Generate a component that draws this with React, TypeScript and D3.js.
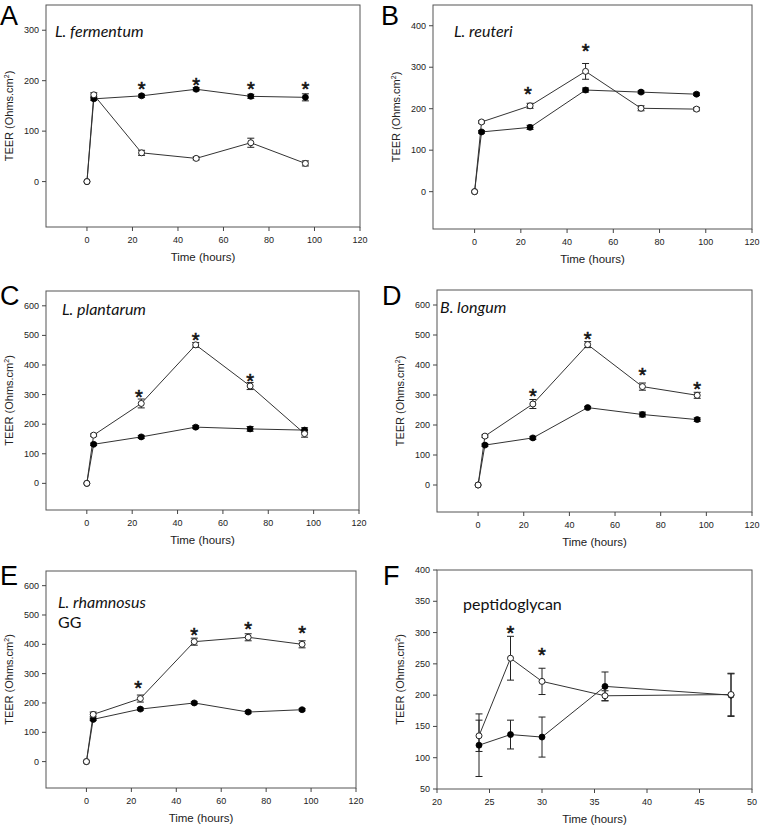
import React from "react";
import * as d3 from "d3";

// ---------- data ----------
const timesAE = [0, 3, 24, 48, 72, 96];
const timesF = [24, 27, 30, 36, 48];

const fermentumOpen = [0, 172, 57, 46, 77, 36];
const fermentumOpenErr = [0, 4, 5, 3, 9, 5];
const fermentumFilled = [0, 164, 170, 183, 169, 167];
const fermentumFilledErr = [0, 3, 3, 3, 4, 7];
const fermentumStarTimes = [24, 48, 72, 96];
const fermentumStarLevels = [192, 199, 192, 192];

const reuteriOpen = [0, 168, 207, 290, 201, 199];
const reuteriOpenErr = [0, 3, 6, 19, 6, 4];
const reuteriFilled = [0, 144, 155, 245, 240, 235];
const reuteriFilledErr = [0, 3, 5, 5, 3, 3];
const reuteriStarTimes = [23, 48];
const reuteriStarLevels = [245, 348];

const plantarumOpen = [0, 163, 270, 468, 329, 168];
const plantarumOpenErr = [0, 4, 15, 8, 12, 12];
const plantarumFilled = [0, 132, 157, 190, 184, 180];
const plantarumFilledErr = [0, 4, 5, 5, 8, 8];
const plantarumStarTimes = [23, 48, 72];
const plantarumStarLevels = [307, 498, 360];

const longumOpen = [0, 163, 270, 468, 328, 299];
const longumOpenErr = [0, 4, 15, 10, 12, 10];
const longumFilled = [0, 133, 157, 258, 235, 218];
const longumFilledErr = [0, 4, 5, 4, 8, 6];
const longumStarTimes = [24, 48, 72, 96];
const longumStarLevels = [310, 499, 380, 333];

const rhamnosusOpen = [0, 161, 215, 409, 424, 400];
const rhamnosusOpenErr = [0, 8, 12, 12, 12, 12];
const rhamnosusFilled = [0, 144, 179, 200, 169, 177];
const rhamnosusFilledErr = [0, 4, 4, 4, 4, 4];
const rhamnosusStarTimes = [23, 48, 72, 96];
const rhamnosusStarLevels = [263, 445, 466, 451];

const pgOpen = [135, 259, 222, 199, 201];
const pgOpenErr = [25, 35, 21, 8, 34];
const pgFilled = [120, 137, 133, 214, 200];
const pgFilledErr = [50, 23, 32, 23, 34];
const pgStarTimes = [27, 30];
const pgStarLevels = [305, 271];

const xTicksAE = [0, 20, 40, 60, 80, 100, 120];
const xTicksF = [20, 25, 30, 35, 40, 45, 50];
const yTicksA = [0, 100, 200, 300];
const yTicksB = [0, 100, 200, 300, 400];
const yTicksCDE = [0, 100, 200, 300, 400, 500, 600];
const yTicksF = [50, 100, 150, 200, 250, 300, 350, 400];

const xLabel = "Time (hours)";

// ---------- layout ----------
type TitleLine = { text: string; italic: boolean };
type Panel = {
  letter: string;
  letterX: number;
  letterY: number;
  box: [number, number, number, number]; // left, right, top, bottom
  xDomain: [number, number];
  yDomain: [number, number];
  xTicks: number[];
  yTicks: number[];
  times: number[];
  open: number[];
  openErr: number[];
  filled: number[];
  filledErr: number[];
  starTimes: number[];
  starLevels: number[];
  title: TitleLine[];
  titlePos: [number, number];
  titleSize: number;
  lineGap: number;
};

const panels: Panel[] = [
  {
    letter: "A", letterX: 0, letterY: 25, box: [46, 360, 5, 227],
    xDomain: [-18, 120], yDomain: [-90, 350], xTicks: xTicksAE, yTicks: yTicksA,
    times: timesAE, open: fermentumOpen, openErr: fermentumOpenErr,
    filled: fermentumFilled, filledErr: fermentumFilledErr,
    starTimes: fermentumStarTimes, starLevels: fermentumStarLevels,
    title: [{ text: "L. fermentum", italic: true }], titlePos: [55, 37], titleSize: 16, lineGap: 0,
  },
  {
    letter: "B", letterX: 381, letterY: 25, box: [433, 752, 5, 229],
    xDomain: [-18, 120], yDomain: [-90, 450], xTicks: xTicksAE, yTicks: yTicksB,
    times: timesAE, open: reuteriOpen, openErr: reuteriOpenErr,
    filled: reuteriFilled, filledErr: reuteriFilledErr,
    starTimes: reuteriStarTimes, starLevels: reuteriStarLevels,
    title: [{ text: "L. reuteri", italic: true }], titlePos: [454, 37], titleSize: 16, lineGap: 0,
  },
  {
    letter: "C", letterX: 0, letterY: 305, box: [46, 359, 291, 510],
    xDomain: [-18, 120], yDomain: [-90, 650], xTicks: xTicksAE, yTicks: yTicksCDE,
    times: timesAE, open: plantarumOpen, openErr: plantarumOpenErr,
    filled: plantarumFilled, filledErr: plantarumFilledErr,
    starTimes: plantarumStarTimes, starLevels: plantarumStarLevels,
    title: [{ text: "L. plantarum", italic: true }], titlePos: [62, 315], titleSize: 16, lineGap: 0,
  },
  {
    letter: "D", letterX: 382, letterY: 305, box: [437, 752, 290, 512],
    xDomain: [-18, 120], yDomain: [-90, 650], xTicks: xTicksAE, yTicks: yTicksCDE,
    times: timesAE, open: longumOpen, openErr: longumOpenErr,
    filled: longumFilled, filledErr: longumFilledErr,
    starTimes: longumStarTimes, starLevels: longumStarLevels,
    title: [{ text: "B. longum", italic: true }], titlePos: [440, 313], titleSize: 16, lineGap: 0,
  },
  {
    letter: "E", letterX: 0, letterY: 585, box: [46, 356, 571, 788],
    xDomain: [-18, 120], yDomain: [-90, 650], xTicks: xTicksAE, yTicks: yTicksCDE,
    times: timesAE, open: rhamnosusOpen, openErr: rhamnosusOpenErr,
    filled: rhamnosusFilled, filledErr: rhamnosusFilledErr,
    starTimes: rhamnosusStarTimes, starLevels: rhamnosusStarLevels,
    title: [
      { text: "L. rhamnosus", italic: true },
      { text: "GG", italic: false },
    ],
    titlePos: [58, 608], titleSize: 16, lineGap: 20,
  },
  {
    letter: "F", letterX: 383, letterY: 585, box: [437, 752, 570, 789],
    xDomain: [20, 50], yDomain: [50, 400], xTicks: xTicksF, yTicks: yTicksF,
    times: timesF, open: pgOpen, openErr: pgOpenErr,
    filled: pgFilled, filledErr: pgFilledErr,
    starTimes: pgStarTimes, starLevels: pgStarLevels,
    title: [{ text: "peptidoglycan", italic: false }], titlePos: [463, 610], titleSize: 16, lineGap: 0,
  },
];

const AX = "Arial, 'Liberation Sans', sans-serif";
const TITLE_FONT = "Lato, 'Open Sans', sans-serif";

function ErrorBars({ times, vals, errs, x, y }: any) {
  return (
    <g stroke="#222" strokeWidth={1}>
      {times.map((t: number, i: number) => {
        if (!errs[i]) return null;
        const cx = x(t);
        const y1 = y(vals[i] + errs[i]);
        const y2 = y(vals[i] - errs[i]);
        return (
          <g key={i}>
            <line x1={cx} x2={cx} y1={y1} y2={y2} />
            <line x1={cx - 3.5} x2={cx + 3.5} y1={y1} y2={y1} />
            <line x1={cx - 3.5} x2={cx + 3.5} y1={y2} y2={y2} />
          </g>
        );
      })}
    </g>
  );
}

function PanelView({ p }: { p: Panel }) {
  const [L, R, T, B] = p.box;
  const x = d3.scaleLinear().domain(p.xDomain).range([L, R]);
  const y = d3.scaleLinear().domain(p.yDomain).range([B, T]);
  const line = d3
    .line<number>()
    .x((_, i) => x(p.times[i]))
    .y((v) => y(v));
  const cxMid = (L + R) / 2;
  const cyMid = (T + B) / 2;
  return (
    <g>
      <text x={p.letterX} y={p.letterY} fontFamily={AX} fontSize={27} fill="#000">
        {p.letter}
      </text>
      {/* frame */}
      <rect x={L} y={T} width={R - L} height={B - T} fill="none" stroke="#555" strokeWidth={1} />
      {/* ticks */}
      <g fontFamily={AX} fontSize={9} fill="#222">
        {p.yTicks.map((v) => (
          <g key={v}>
            <line x1={L - 4} x2={L} y1={y(v)} y2={y(v)} stroke="#444" />
            <text x={L - 7} y={y(v)} dy="0.33em" textAnchor="end">
              {v}
            </text>
          </g>
        ))}
        {p.xTicks.map((v) => (
          <g key={"x" + v}>
            <line x1={x(v)} x2={x(v)} y1={B} y2={B + 4} stroke="#444" />
            <text x={x(v)} y={B + 16} textAnchor="middle">
              {v}
            </text>
          </g>
        ))}
      </g>
      <text x={cxMid} y={B + 34} textAnchor="middle" fontFamily={AX} fontSize={11.5} fill="#222">
        {xLabel}
      </text>
      <text
        transform={`translate(${L - 33},${cyMid}) rotate(-90)`}
        textAnchor="middle"
        fontFamily={AX}
        fontSize={11}
        fill="#222"
      >
        TEER (Ohms.cm
        <tspan fontSize={7} dy={-4}>
          2
        </tspan>
        <tspan dy={4}>)</tspan>
      </text>
      {/* title */}
      {p.title.map((s, i) => (
        <text
          key={"t" + i}
          x={p.titlePos[0]}
          y={p.titlePos[1] + i * p.lineGap}
          fontFamily={TITLE_FONT}
          fontStyle={s.italic ? "italic" : "normal"}
          fontSize={p.titleSize}
          fill="#111"
        >
          {s.text}
        </text>
      ))}
      {/* lines */}
      <path d={line(p.filled) || ""} fill="none" stroke="#333" strokeWidth={1} />
      <path d={line(p.open) || ""} fill="none" stroke="#333" strokeWidth={1} />
      <ErrorBars times={p.times} vals={p.filled} errs={p.filledErr} x={x} y={y} />
      <ErrorBars times={p.times} vals={p.open} errs={p.openErr} x={x} y={y} />
      {p.filled.map((v, i) => (
        <circle key={"f" + i} cx={x(p.times[i])} cy={y(v)} r={3} fill="#000" stroke="#000" strokeWidth={0.8} />
      ))}
      {p.open.map((v, i) => (
        <circle key={"o" + i} cx={x(p.times[i])} cy={y(v)} r={3} fill="#fff" stroke="#222" strokeWidth={1} />
      ))}
      {p.starTimes.map((t, i) => (
        <text
          key={"s" + i}
          x={x(t)}
          y={y(p.starLevels[i]) + 11}
          textAnchor="middle"
          fontFamily={AX}
          fontSize={20}
          fill="#111"
          stroke="#111"
          strokeWidth={0.6}
        >
          *
        </text>
      ))}
    </g>
  );
}

export default function App() {
  return (
    <svg
      width={760}
      height={825}
      viewBox="0 0 760 825"
      style={{ position: "absolute", left: 0, top: 0, background: "#fff" }}
    >
      <rect width={760} height={825} fill="#fff" />
      {panels.map((p) => (
        <PanelView key={p.letter} p={p} />
      ))}
    </svg>
  );
}
